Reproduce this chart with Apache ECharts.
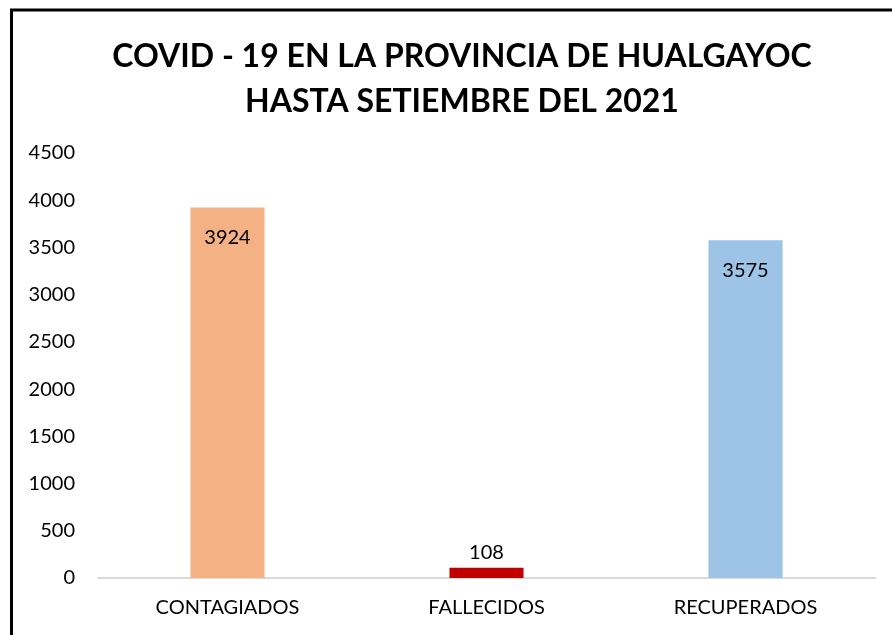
<!DOCTYPE html>
<html>
<head>
<meta charset="utf-8">
<script src="https://cdn.jsdelivr.net/npm/echarts@6/dist/echarts.min.js"></script>
<style>
  html, body { margin: 0; padding: 0; background: #fff; }
  #chart { width: 892px; height: 635px; }
</style>
</head>
<body>
<div id="chart"></div>
<script>
// datos del gráfico
var categories = ['CONTAGIADOS', 'FALLECIDOS', 'RECUPERADOS'];
var values = [3924, 108, 3575];
var barColors = ['#F4B183', '#C00000', '#9DC3E6'];
var labelPositions = ['insideTop', 'top', 'insideTop'];

var myChart = echarts.init(document.getElementById('chart'));

var option = {
    animation: false,
    textStyle: { fontFamily: 'Lato' },
    title: {
        text: 'COVID - 19 EN LA PROVINCIA DE HUALGAYOC\nHASTA SETIEMBRE DEL 2021',
        left: 457,
        top: 29,
        textAlign: 'center',
        textStyle: {
            fontFamily: 'Lato',
            fontSize: 32,
            fontWeight: 'bold',
            color: '#000',
            lineHeight: 45
        }
    },
    graphic: [
        {
            type: 'polyline',
            shape: { points: [[11.5, 640], [11.5, 10], [895, 10]] },
            style: { stroke: '#000', lineWidth: 3, fill: null }
        }
    ],
    grid: {
        left: 98,
        right: 17,
        top: 153,
        bottom: 57
    },
    xAxis: {
        type: 'category',
        data: categories,
        axisLine: { lineStyle: { color: '#D9D9D9', width: 2 } },
        axisTick: { show: false },
        axisLabel: {
            color: '#000',
            fontSize: 20,
            margin: 20
        }
    },
    yAxis: {
        type: 'value',
        min: 0,
        max: 4500,
        interval: 500,
        splitLine: { show: false },
        axisLine: { show: false },
        axisTick: { show: false },
        axisLabel: {
            color: '#000',
            fontSize: 20,
            margin: 23,
            formatter: function (v) { return String(v); }
        }
    },
    series: [
        {
            type: 'bar',
            barWidth: '28.6%',
            data: values.map(function (v, i) {
                return {
                    value: v,
                    itemStyle: { color: barColors[i] },
                    label: { position: labelPositions[i], distance: labelPositions[i] === 'top' ? 5 : 20 }
                };
            }),
            label: {
                show: true,
                color: '#000',
                fontSize: 20
            }
        }
    ]
};

myChart.setOption(option);
</script>
</body>
</html>
